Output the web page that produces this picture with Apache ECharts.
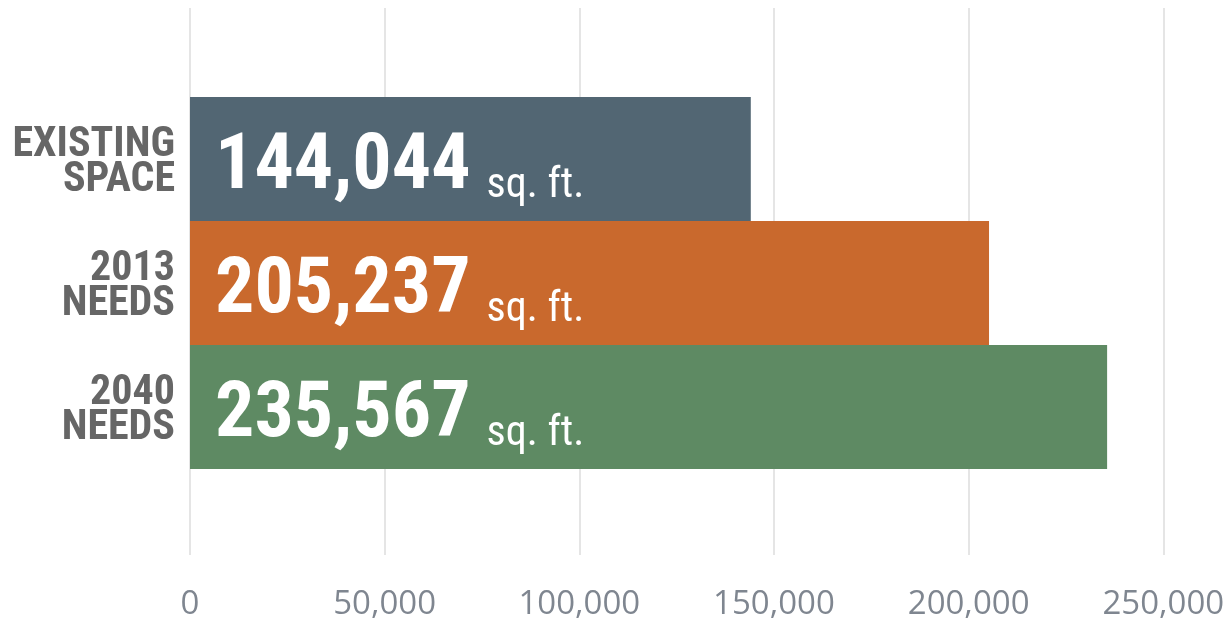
<!DOCTYPE html>
<html>
<head>
<meta charset="utf-8">
<script src="https://cdn.jsdelivr.net/npm/echarts@6/dist/echarts.min.js"></script>
<style>html,body{margin:0;padding:0;background:#fff}#c{width:1228px;height:623px}</style>
</head>
<body>
<div id="c"></div>
<script>
const categories = ['EXISTING\nSPACE', '2013\nNEEDS', '2040\nNEEDS'];
const values = [144044, 205237, 235567];
const unitLabel = 'sq. ft.';
const xTicks = [0, 50000, 100000, 150000, 200000, 250000];

const barColors = ['#526673', '#C9692D', '#5E8A63'];
const narrow = '"Roboto Condensed","Liberation Sans",sans-serif';

const chart = echarts.init(document.getElementById('c'), null, {renderer: 'canvas'});
chart.setOption({
  animation: false,
  backgroundColor: '#fff',
  grid: [
    {left: 190, right: 64.7, top: 97, bottom: 154, outerBoundsMode: 'none', containLabel: false},
    {left: 190, right: 64.7, top: 8, bottom: 68, outerBoundsMode: 'none', containLabel: false}
  ],
  xAxis: [
    {gridIndex: 0, type: 'value', min: xTicks[0], max: xTicks[xTicks.length - 1], interval: 50000, show: false},
    {gridIndex: 1, type: 'value', min: xTicks[0], max: xTicks[xTicks.length - 1], interval: 50000,
     axisLine: {show: false}, axisTick: {show: false},
     splitLine: {show: true, lineStyle: {color: '#dcdcdc', width: 1.5}},
     axisLabel: {margin: 33, color: '#7f8690', fontSize: 33, fontFamily: '"Open Sans",sans-serif',
       formatter: v => v.toLocaleString('en-US')}}
  ],
  yAxis: [
    {gridIndex: 0, type: 'category', data: categories, inverse: true,
     axisLine: {show: false}, axisTick: {show: false}, splitLine: {show: false},
     axisLabel: {margin: 15, color: '#666666', fontSize: 42, fontWeight: 'bold', fontFamily: narrow,
       lineHeight: 40, align: 'right',
       formatter: v => v.split('\n').map((s, i) => '{' + (i === 0 ? 'a' : 'b') + '|' + s + '}').join('\n'),
       rich: {
         a: {color: '#666666', fontSize: 42, fontWeight: 'bold', fontFamily: narrow, lineHeight: 40, padding: [12, 0, 0, 0], align: 'right'},
         b: {color: '#666666', fontSize: 42, fontWeight: 'bold', fontFamily: narrow, lineHeight: 40, padding: [2, 0, 0, 0], align: 'right'}
       }}},
    {gridIndex: 1, type: 'value', show: false}
  ],
  series: [{
    type: 'bar',
    xAxisIndex: 0, yAxisIndex: 0,
    barCategoryGap: '0%',
    data: values.map((v, i) => ({value: v, itemStyle: {color: barColors[i]}})),
    label: {
      show: true, position: 'insideLeft', distance: 25,
      formatter: p => '{v|' + p.value.toLocaleString('en-US') + '}{u|' + unitLabel + '}',
      rich: {
        v: {color: '#fff', fontSize: 78, fontWeight: 'bold', fontFamily: narrow, verticalAlign: 'bottom', lineHeight: 80},
        u: {color: '#fff', fontSize: 42, fontFamily: narrow, verticalAlign: 'bottom', lineHeight: 96, padding: [0, 0, 0, 16]}
      }
    }
  }]
});
</script>
</body>
</html>
